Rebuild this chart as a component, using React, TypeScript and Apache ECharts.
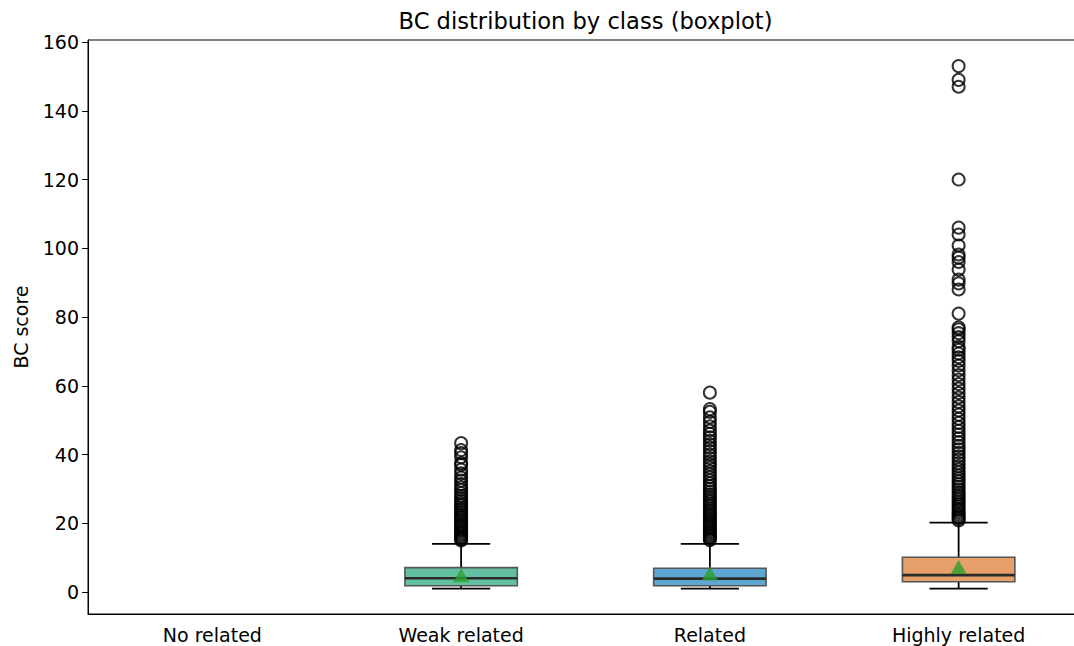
import React, { useEffect, useRef } from "react";
import * as echarts from "echarts";

const categories = ["No related", "Weak related", "Related", "Highly related"];
const lowWhisker = [null, 1.0, 1.0, 1.0];
const q1 = [null, 1.8, 1.8, 3.0];
const median = [null, 4.0, 3.9, 4.9];
const q3 = [null, 7.1, 6.9, 10.1];
const highWhisker = [null, 14.0, 14.0, 20.2];
const means = [null, 4.9, 5.4, 7.3];

const weakOutliers = [
  15.0, 15.4, 15.8, 16.2, 16.7, 17.1, 17.6, 18.0, 18.5, 19.0, 19.4, 19.9, 20.5, 21.0, 21.6, 22.1,
  22.7, 23.3, 23.9, 24.5, 25.2, 25.8, 26.5, 27.3, 28.0, 28.8, 29.7, 30.5, 31.4, 32.4, 33.3, 34.5,
  35.6, 37.0, 37.5, 39.2, 40.4, 41.3, 43.3,
];
const relatedOutliers = [
  15.1, 15.5, 16.0, 16.4, 16.9, 17.3, 17.8, 18.3, 18.8, 19.3, 19.8, 20.3, 20.8, 21.4, 22.0, 22.5,
  23.1, 23.7, 24.3, 25.0, 25.6, 26.3, 27.0, 27.7, 28.4, 29.2, 30.0, 30.8, 31.6, 32.5, 33.4, 34.3,
  35.2, 36.2, 37.1, 38.0, 39.0, 40.0, 41.0, 42.0, 43.0, 44.0, 45.0, 46.0, 47.0, 48.2, 49.5, 50.8,
  52.4, 53.2, 58.0,
];
const highlyOutliers = [
  20.8, 21.3, 21.8, 22.4, 23.0, 23.6, 24.2, 24.9, 25.5, 26.2, 26.9, 27.6, 28.3, 29.0, 29.8, 30.6,
  31.4, 32.2, 33.0, 33.9, 34.8, 35.7, 36.6, 37.5, 38.5, 39.5, 40.5, 41.5, 42.5, 43.6, 44.7, 45.8,
  46.9, 48.0, 49.2, 50.4, 51.6, 52.8, 54.0, 55.3, 56.6, 57.9, 59.2, 60.5, 61.8, 63.1, 64.5, 65.9,
  67.2, 68.3, 69.4, 70.5, 71.3, 73.0, 74.2, 75.3, 76.4, 77.0, 81.0, 88.0, 89.8, 90.9, 93.8, 96.0,
  97.3, 98.2, 100.8, 104.0, 106.0, 120.0, 147.0, 149.0, 153.0,
];
const outliersByClass = [[], weakOutliers, relatedOutliers, highlyOutliers];
const yTicks = [0, 20, 40, 60, 80, 100, 120, 140, 160];

const boxColors = ["#cccccc", "#62c0a0", "#5ea7d2", "#e8a06a"];
const FONT = "DejaVu Sans";

export default function App() {
  const ref = useRef<HTMLDivElement>(null);
  useEffect(() => {
    if (!ref.current) return;
    const chart = echarts.init(ref.current, null, { renderer: "svg" });

    const boxData: any[] = [];
    categories.forEach((_, i) => {
      if (q1[i] == null) return;
      boxData.push([i, lowWhisker[i], q1[i], median[i], q3[i], highWhisker[i]]);
    });
    const outlierData: any[] = [];
    outliersByClass.forEach((arr, i) => arr.forEach((v) => outlierData.push([i, v])));
    const meanData: any[] = [];
    means.forEach((v, i) => {
      if (v != null) meanData.push([i, v]);
    });

    chart.setOption({
      animation: false,
      textStyle: { fontFamily: FONT },
      graphic: [
        {
          type: "text",
          x: 585.5,
          y: 21,
          style: {
            text: "BC distribution by class (boxplot)",
            fontFamily: FONT,
            fontSize: 22.6,
            fill: "#000",
            textAlign: "center",
            textVerticalAlign: "middle",
          },
        },
      ],
      grid: {
        left: 88,
        top: 40,
        width: 995,
        height: 574,
        outerBoundsMode: "none",
        containLabel: false,
        show: true,
        borderColor: "#000",
        borderWidth: 1,
        backgroundColor: "transparent",
      },
      xAxis: {
        type: "category",
        data: categories,
        boundaryGap: true,
        axisLine: { onZero: false, lineStyle: { color: "#000", width: 1 } },
        axisTick: { alignWithLabel: true, length: 6, lineStyle: { color: "#000" } },
        axisLabel: { color: "#000", fontSize: 19, fontFamily: FONT, margin: 11 },
        splitLine: { show: false },
      },
      yAxis: {
        type: "value",
        min: -6.4,
        max: 160.6,
        name: "BC score",
        nameLocation: "middle",
        nameGap: 58,
        nameRotate: 90,
        nameTextStyle: { color: "#000", fontSize: 19, fontFamily: FONT },
        axisLine: { show: true, onZero: false, lineStyle: { color: "#000", width: 1 } },
        axisTick: { show: true, length: 6, lineStyle: { color: "#000" }, customValues: yTicks },
        axisLabel: { color: "#000", fontSize: 19, fontFamily: FONT, margin: 9, customValues: yTicks },
        splitLine: { show: false },
      },
      series: [
        {
          type: "custom",
          z: 2,
          data: boxData,
          encode: { x: 0, y: [1, 2, 3, 4, 5] },
          renderItem: (params: any, api: any) => {
            const x = api.value(0);
            const band = api.size([1, 0])[0];
            const bw = band * 0.452;
            const cw = band * 0.234;
            const pLo = api.coord([x, api.value(1)]);
            const pQ1 = api.coord([x, api.value(2)]);
            const pMed = api.coord([x, api.value(3)]);
            const pQ3 = api.coord([x, api.value(4)]);
            const pHi = api.coord([x, api.value(5)]);
            const cx = pMed[0];
            const lineStyle = { stroke: "#000", lineWidth: 1.8 };
            return {
              type: "group",
              children: [
                { type: "line", shape: { x1: cx, y1: pQ1[1], x2: cx, y2: pLo[1] }, style: lineStyle },
                { type: "line", shape: { x1: cx, y1: pQ3[1], x2: cx, y2: pHi[1] }, style: lineStyle },
                { type: "line", shape: { x1: cx - cw / 2, y1: pLo[1], x2: cx + cw / 2, y2: pLo[1] }, style: lineStyle },
                { type: "line", shape: { x1: cx - cw / 2, y1: pHi[1], x2: cx + cw / 2, y2: pHi[1] }, style: lineStyle },
                {
                  type: "rect",
                  shape: { x: cx - bw / 2, y: pQ3[1], width: bw, height: pQ1[1] - pQ3[1] },
                  style: { fill: boxColors[x], stroke: "#555555", lineWidth: 1.6 },
                },
                {
                  type: "line",
                  shape: { x1: cx - bw / 2, y1: pMed[1], x2: cx + bw / 2, y2: pMed[1] },
                  style: { stroke: "#2b2b2b", lineWidth: 2.6 },
                },
              ],
            };
          },
        },
        {
          type: "scatter",
          z: 3,
          data: outlierData,
          symbol: "circle",
          symbolSize: 12,
          itemStyle: { color: "rgba(0,0,0,0)", borderColor: "#000", borderWidth: 2 },
          silent: true,
        },
        {
          type: "scatter",
          z: 4,
          data: meanData,
          symbol: "triangle",
          symbolSize: [16, 14],
          itemStyle: { color: "#2ca02c" },
          silent: true,
        },
      ],
    });
    return () => chart.dispose();
  }, []);
  return (
    <div
      ref={ref}
      style={{ position: "fixed", left: 0, top: 0, width: 1074, height: 646, background: "#fff" }}
    />
  );
}
